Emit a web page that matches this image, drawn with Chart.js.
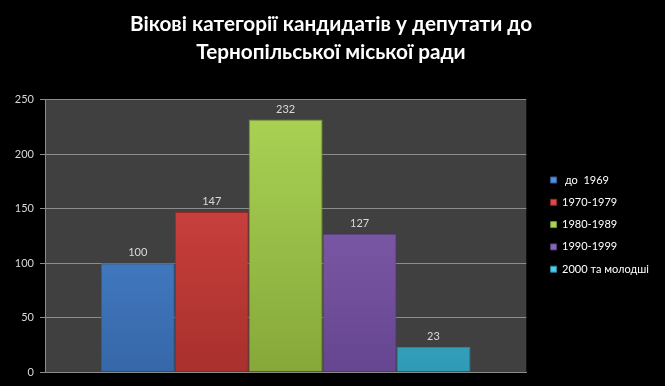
<!DOCTYPE html>
<html lang="uk">
<head>
<meta charset="UTF-8">
<title>Вікові категорії кандидатів</title>
<script src="https://cdn.jsdelivr.net/npm/chart.js"></script>
<style>
  html, body { margin: 0; padding: 0; background: #000; }
  #wrap { width: 665px; height: 386px; }
</style>
</head>
<body>
<div id="wrap"><canvas id="ageChart" width="665" height="386"></canvas></div>
<script>
// дані з діаграми
const seriesNames = [' до  1969', '1970-1979', '1980-1989', '1990-1999', '2000 та молодші'];
const seriesValues = [100, 147, 232, 127, 23];
const yTicks = [0, 50, 100, 150, 200, 250];
const titleLines = ['Вікові категорії кандидатів у депутати до', 'Тернопільської міської ради'];

// кольори: верх / низ градієнта
const topColors = ['#4f90de', '#de4a46', '#abd455', '#8c66b6', '#52cbe8'];
const bottomColors = ['#3667a8', '#a8302d', '#86a83a', '#664690', '#2f9ab5'];
const borderColors = ['#2f5b95', '#932926', '#728f31', '#573c7c', '#28869e'];

function barGradient(ctx, i) {
    const area = ctx.chart.chartArea;
    if (!area) return topColors[i];
    const g = ctx.chart.ctx.createLinearGradient(0, area.top, 0, area.bottom);
    g.addColorStop(0, topColors[i]);
    g.addColorStop(1, bottomColors[i]);
    return g;
}

const plotBg = {
    id: 'plotBg',
    beforeDraw(chart) {
        const { ctx, chartArea: a } = chart;
        ctx.save();
        ctx.fillStyle = '#404040';
        ctx.fillRect(a.left, a.top, a.right - a.left, a.bottom - a.top);
        ctx.restore();
    }
};

// підписи значень над стовпчиками
const valueLabels = {
    id: 'valueLabels',
    afterDatasetsDraw(chart) {
        const ctx = chart.ctx;
        ctx.save();
        ctx.fillStyle = '#d9d9d9';
        ctx.font = '11px Lato, "DejaVu Sans", sans-serif';
        ctx.textAlign = 'center';
        ctx.textBaseline = 'bottom';
        chart.data.datasets.forEach((ds, i) => {
            const bar = chart.getDatasetMeta(i).data[0];
            ctx.fillText(String(ds.data[0]), bar.x, bar.y - 5);
        });
        ctx.restore();
    }
};

const datasets = seriesNames.map((name, i) => ({
    label: name,
    data: [seriesValues[i]],
    backgroundColor: ctx => barGradient(ctx, i),
    borderColor: borderColors[i],
    borderWidth: 1,
    barPercentage: 1,
    categoryPercentage: 0.768
}));

new Chart(document.getElementById('ageChart').getContext('2d'), {
    type: 'bar',
    data: { labels: [''], datasets: datasets },
    options: {
        responsive: false,
        animation: false,
        layout: { padding: { left: 3, right: 6, top: 0, bottom: 6 } },
        plugins: {
            title: {
                display: true,
                text: titleLines,
                color: '#ffffff',
                font: { family: 'Lato', size: 20.7, weight: 'bold', lineHeight: 1.35 },
                padding: { top: 10, bottom: 34 }
            },
            legend: {
                position: 'right',
                maxWidth: 300,
                title: {
                    display: true,
                    text: '',
                    font: { size: 1 },
                    padding: { top: 68, bottom: 0 }
                },
                labels: {
                    color: '#ffffff',
                    font: { family: 'Lato', size: 11 },
                    boxWidth: 6,
                    boxHeight: 6,
                    padding: 11.3,
                    generateLabels(chart) {
                        return chart.data.datasets.map((ds, i) => ({
                            text: ds.label,
                            fillStyle: topColors[i],
                            strokeStyle: borderColors[i],
                            lineWidth: 1,
                            fontColor: '#ffffff',
                            datasetIndex: i
                        }));
                    }
                }
            },
            tooltip: { enabled: false }
        },
        scales: {
            x: {
                ticks: { display: false },
                grid: { display: false },
                border: { color: '#8c8c8c' }
            },
            y: {
                min: 0,
                max: 250,
                afterBuildTicks(scale) { scale.ticks = yTicks.map(v => ({ value: v })); },
                afterFit(scale) { scale.width = 42; },
                ticks: {
                    color: '#d9d9d9',
                    font: { family: 'Lato', size: 11 },
                    padding: 6
                },
                grid: { color: '#8c8c8c', tickLength: 5 },
                border: { color: '#8c8c8c' }
            },
            // порожня вісь справа — проміжок між графіком і легендою
            gap: {
                type: 'linear',
                position: 'right',
                display: true,
                ticks: { display: false },
                grid: { display: false },
                border: { display: false },
                afterFit(scale) { scale.width = 13; }
            }
        }
    },
    plugins: [plotBg, valueLabels]
});
</script>
</body>
</html>
